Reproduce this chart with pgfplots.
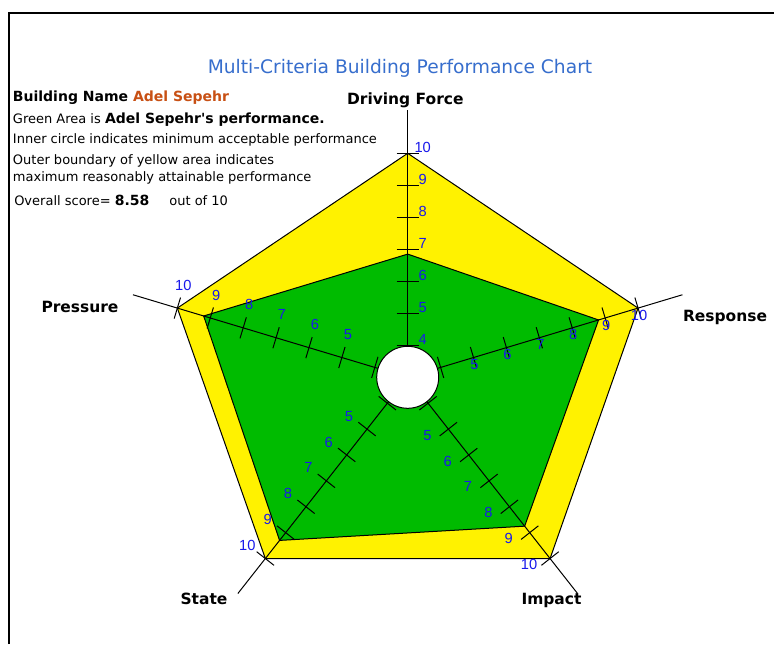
\documentclass[border=0pt]{standalone}
\usepackage{pgfplots}
\pgfplotsset{compat=1.18}
\usepackage{pgfplotstable}
\usetikzlibrary{calc}
\usepackage{fontspec}
\setmainfont{DejaVu Sans}
\newfontfamily\tickfont{Liberation Sans}
\definecolor{titleblue}{RGB}{55,110,205}
\definecolor{tickblue}{RGB}{25,25,235}
\definecolor{namecol}{RGB}{200,80,20}
\definecolor{perfgreen}{RGB}{0,187,0}

% criterion angle (deg) and score; radius on the chart = score - 3
\pgfplotstableread{
angle value
90 6.85
18 8.8
-54 8.75
-126 9.3
162 9.2
}\perf
\pgfplotstableread{
angle value
90 10
18 10
-54 10
-126 10
162 10
}\best

\begin{document}
\begin{tikzpicture}[x=0.75pt,y=-0.75pt]
\path[use as bounding box, fill=white] (0,0) rectangle (774,644);
\draw[line width=1.5pt] (8.5,644) -- (8.5,12.75) -- (774,12.75);

\begin{axis}[at={(305.775pt,-282.975pt)}, anchor=center,
  x=25.95pt, y=24pt, xmin=-8.6, xmax=8.6, ymin=-8.6, ymax=8.6,
  axis lines=none, clip=false, ticks=none]
\addplot[fill=yellow, draw=black, line width=0.75pt]
  table[x expr={cos(\thisrow{angle})*(\thisrow{value}-3)},
        y expr={sin(\thisrow{angle})*(\thisrow{value}-3)}] {\best} -- cycle;
\addplot[fill=perfgreen, draw=black, line width=0.75pt]
  table[x expr={cos(\thisrow{angle})*(\thisrow{value}-3)},
        y expr={sin(\thisrow{angle})*(\thisrow{value}-3)}] {\perf} -- cycle;
\end{axis}

\begin{scope}[shift={(407.7,377.3)}, x={(25.95pt,0pt)}, y={(0pt,24pt)}]
\foreach \a in {90,18,-54,-126,162} {
  \draw[line width=0.75pt] (0,0) -- (\a:8.35);
  \foreach \v in {4,...,10} {
    \pgfmathsetmacro\r{\v-3}
    \pgfmathsetmacro\rr{\v-2}
    \draw[line width=0.75pt] ($(\a:\r)!8.25pt!90:(\a:\rr)$) -- ($(\a:\r)!8.25pt!-90:(\a:\rr)$);
  }
}
\filldraw[fill=white, draw=black, line width=0.75pt] (0,0) circle[radius=23.25pt];
\tikzset{tl/.style={font=\tickfont\fontsize{11}{12}\selectfont, text=tickblue, inner sep=0pt}}
\foreach \v [evaluate=\v as \r using \v-3] in {4,...,10}
  \node[tl] at ([xshift=11.25pt,yshift=4.5pt]90:\r) {\v};
\foreach \v [evaluate=\v as \r using \v-3] in {5,...,10} {
  \node[tl] at ([xshift=0.75pt,yshift=-5.25pt]18:\r) {\v};
  \node[tl] at ([xshift=-15.75pt,yshift=-4.5pt]-54:\r) {\v};
  \node[tl] at ([xshift=-13.5pt,yshift=9.75pt]-126:\r) {\v};
  \node[tl] at ([xshift=4.5pt,yshift=17.25pt]162:\r) {\v};
}
\end{scope}

\node[anchor=base, inner sep=0, text=titleblue, font=\fontsize{14}{16}\selectfont] at (400,73.3) {Multi-Criteria Building Performance Chart};
\tikzset{cl/.style={anchor=base, inner sep=0, font=\bfseries\fontsize{11.6}{13}\selectfont}}
\node[cl] at (405.3,104) {Driving Force};
\node[cl] at (725,321.7) {Response};
\node[cl] at (551.5,604) {Impact};
\node[cl] at (204,604) {State};
\node[cl] at (80,312) {Pressure};

\tikzset{tx/.style={anchor=base west, inner sep=0, font=\fontsize{9.75}{12}\selectfont}}
\node[tx] at (12.7,101.7) {\bfseries\fontsize{10.5}{12}\selectfont Building Name \textcolor{namecol}{Adel Sepehr}};
\node[tx] at (12.7,123.3) {Green Area is {\bfseries\fontsize{10.5}{12}\selectfont Adel Sepehr{\addfontfeatures{Ligatures=TeXOff}'}s performance.}};
\node[tx] at (12.7,143.3) {Inner circle indicates minimum acceptable performance};
\node[tx] at (12.7,164.3) {Outer boundary of yellow area indicates};
\node[tx] at (12.7,181.7) {maximum reasonably attainable performance};
\node[tx] at (14,205.7) {Overall score= {\bfseries\fontsize{10.5}{12}\selectfont 8.58}\hspace{15pt}out of 10};
\end{tikzpicture}
\end{document}
